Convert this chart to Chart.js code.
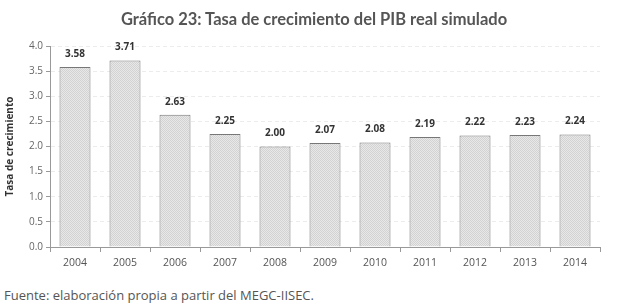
<!DOCTYPE html>
<html>
<head>
<meta charset="utf-8">
<script src="https://cdn.jsdelivr.net/npm/chart.js@4"></script>
<style>
  html, body { margin: 0; padding: 0; background: #fff; }
  #wrap { position: relative; width: 627px; height: 305px; }
  #title { position: absolute; left: 0; width: 628px; top: 9px; text-align: center; font: bold 16.5px Lato, sans-serif; color: #555; }
  #footer { position: absolute; left: 4px; top: 286px; font: 13px "Open Sans", sans-serif; color: #555; }
</style>
</head>
<body>
<div id="wrap">
  <canvas id="pibChart" width="627" height="282"></canvas>
  <div id="title">Gráfico 23: Tasa de crecimiento del PIB real simulado</div>
  <div id="footer">Fuente: elaboración propia a partir del MEGC-IISEC.</div>
</div>
<script>
const years = ['2004', '2005', '2006', '2007', '2008', '2009', '2010', '2011', '2012', '2013', '2014'];
const growth = [3.58, 3.71, 2.63, 2.25, 2.00, 2.07, 2.08, 2.19, 2.22, 2.23, 2.24];

// dotted grey fill like the printed chart
function makePattern() {
    const p = document.createElement('canvas');
    p.width = 2; p.height = 2;
    const c = p.getContext('2d');
    c.fillStyle = '#e8e8e8';
    c.fillRect(0, 0, 2, 2);
    c.fillStyle = '#d2d2d2';
    c.fillRect(0, 0, 1, 1);
    c.fillRect(1, 1, 1, 1);
    return c.createPattern(p, 'repeat');
}

const valueLabels = {
    id: 'valueLabels',
    afterDatasetsDraw(chart) {
        const ctx = chart.ctx;
        const meta = chart.getDatasetMeta(0);
        ctx.save();
        ctx.font = 'bold 10px "Open Sans", sans-serif';
        ctx.fillStyle = '#333';
        ctx.textAlign = 'center';
        ctx.textBaseline = 'bottom';
        meta.data.forEach((bar, i) => {
            ctx.fillText(growth[i].toFixed(2), bar.x, bar.y - 8);
        });
        ctx.restore();
    }
};

new Chart(document.getElementById('pibChart'), {
    type: 'bar',
    data: {
        labels: years,
        datasets: [{
            data: growth,
            backgroundColor: makePattern(),
            borderColor: '#777',
            borderWidth: 1,
            categoryPercentage: 0.62,
            barPercentage: 1
        }]
    },
    options: {
        responsive: false,
        animation: false,
        layout: { padding: { left: 4, right: 27, top: 46, bottom: 0 } },
        plugins: {
            legend: { display: false },
            tooltip: { enabled: false }
        },
        scales: {
            x: {
                grid: { display: true, drawOnChartArea: false, offset: true, color: '#999', tickLength: 5 },
                border: { color: '#999' },
                ticks: { color: '#555', font: { family: 'Open Sans', size: 10.5 }, padding: 5 },
                afterFit: axis => { axis.height = 35; }
            },
            y: {
                min: 0,
                max: 4,
                ticks: {
                    stepSize: 0.5,
                    color: '#666',
                    font: { family: 'Open Sans', size: 10 },
                    callback: v => v.toFixed(1),
                    padding: 3
                },
                grid: { color: '#ececec', tickColor: '#999', tickLength: 4 },
                border: { color: '#999', dash: [4, 3] },
                title: {
                    display: true,
                    text: 'Tasa de crecimiento',
                    color: '#333',
                    font: { family: 'Open Sans', size: 10, weight: 'bold' },
                    padding: { top: 0, bottom: 2 }
                },
                afterFit: axis => { axis.width = 46; }
            }
        }
    },
    plugins: [valueLabels]
});
</script>
</body>
</html>
